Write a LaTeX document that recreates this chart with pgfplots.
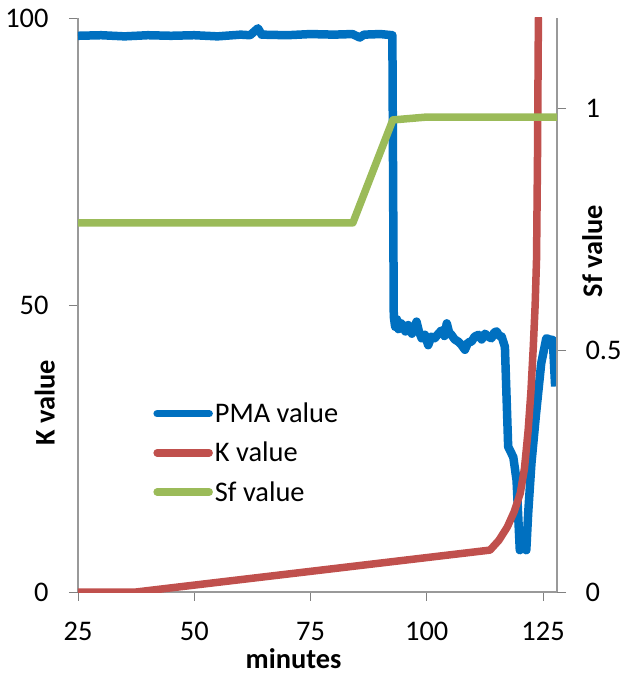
\documentclass[border=0pt]{standalone}
\usepackage{fontspec}
\setmainfont{Carlito}
\usepackage{pgfplots}
\pgfplotsset{compat=1.18}

\definecolor{pmablue}{HTML}{0070C0}
\definecolor{kred}{HTML}{C0504D}
\definecolor{sfgreen}{HTML}{9BBB59}

\pgfplotsset{
  base/.style={
    width=479bp, height=574bp, scale only axis,
    xmin=25, xmax=128,
    /pgf/number format/assume math mode=true,
    axis line style={gray!80, line width=1.2bp},
    ticklabel style={font=\fontsize{28.5}{31}\selectfont},
    label style={font=\fontsize{28.5}{31}\selectfont\bfseries, inner sep=0pt},
  },
  tk/.style={tick align=outside, major tick length=9bp,
    tick style={gray, line width=0.8bp}},
}

\begin{document}
\begin{tikzpicture}
\begin{axis}[base,
  axis x line*=bottom, axis y line*=left, tk,
  ymin=0, ymax=100, ytick={0,50,100},
  xtick={25,50,75,100,125},
  xticklabel style={yshift=-18bp},
  yticklabel style={xshift=-17bp},
  xlabel={minutes},
  xlabel style={at={(rel axis cs:0.45,0)}, anchor=north, yshift=-56bp},
  ylabel={K value},
  ylabel style={at={(rel axis cs:0,0.33)}, anchor=south, yshift=23bp},
]
\coordinate (O) at (rel axis cs:0,0);
% PMA value
\addplot[pmablue, line width=8.5bp, line join=round] coordinates {
(25,96.9) (30,97.0) (35,96.8) (40,97.0) (45,96.9) (50,97.0) (55,96.8)
(60,97.1) (62,97.0) (63.7,98.2) (64.5,97.1) (70,97.0) (75,97.2) (80,97.1)
(84,97.2) (85.6,96.6) (86.5,97.1) (90,97.2) (92.6,97.0)
(92.9,48.0) (93.2,46.2) (93.6,47.5) (93.9,45.8) (94.5,46.8) (95.4,45.4)
(96.0,46.5) (96.8,45.0) (97.3,46.0) (97.8,47.1) (98.3,45.4) (98.9,44.2)
(99.6,44.8) (100.3,43.0) (101.0,44.5) (101.7,44.2) (102.5,45.0) (103.2,45.6)
(103.8,44.6) (104.3,46.8) (104.8,45.2) (105.3,44.8) (106.0,44.0) (106.8,43.6)
(107.5,43.0) (108.2,42.2) (108.9,43.5) (109.6,43.6) (110.3,44.5) (111.1,44.8)
(111.8,44.0) (112.5,45.0) (113.2,44.5) (113.9,44.2) (114.5,45.2) (115.0,45.4)
(115.6,44.6) (116.1,44.5) (116.8,42.7) (117.5,25.3) (118.6,23.5) (119.3,19.5)
(120.0,7.3) (120.7,7.8) (121.4,7.3) (121.8,13.7) (122.5,22.4) (123.5,31.1)
(124.6,39.8) (125.7,44.2) (126.4,44.0) (127.1,43.9) (127.6,35.8)
};
% K value
\addplot[kred, line width=7.5bp, line cap=round, line join=round] coordinates {
(25,0) (37.5,0) (113.6,7.3) (115.5,9.0) (117.3,11.3) (118.8,14.0) (120.1,17.2)
(121.0,21.5) (121.8,28.2) (122.4,35.0) (122.9,42.7) (123.3,50.0)
(123.6,58.0) (123.8,75.0) (124.0,100.0)
};
\end{axis}
\begin{axis}[base,
  axis x line=none, axis y line*=right, tk,
  ymin=0, ymax=1.188, ytick={0,0.5,1},
  yticklabel style={/pgf/number format/fixed, xshift=16bp},
  ylabel={Sf value},
  ylabel style={at={(rel axis cs:1,0.594)}, anchor=north, yshift=-25bp},
  legend style={draw=none, fill=none, at={(rel axis cs:0.157,0.333)},
    anchor=north west, font=\fontsize{28.5}{31}\selectfont,
    row sep=14bp, inner sep=0pt,
    /tikz/every even column/.append style={column sep=2bp}},
  legend cell align=left,
  legend image code/.code={\draw[#1, line cap=round] (0bp,0bp) -- (52bp,0bp);},
]
\addlegendimage{pmablue, line width=7.5bp}
\addlegendentry{PMA value}
\addlegendimage{kred, line width=7.5bp}
\addlegendentry{K value}
\addplot[sfgreen, line width=7.5bp, line join=round] coordinates {
(25,0.764) (84.1,0.764) (92.7,0.977) (100,0.983) (110,0.983) (128,0.983)
};
\addlegendentry{Sf value}
\end{axis}
\pgfresetboundingbox
\path[use as bounding box] (O) ++(-78bp,-83bp) rectangle ++(629bp,675bp);
\end{tikzpicture}
\end{document}
